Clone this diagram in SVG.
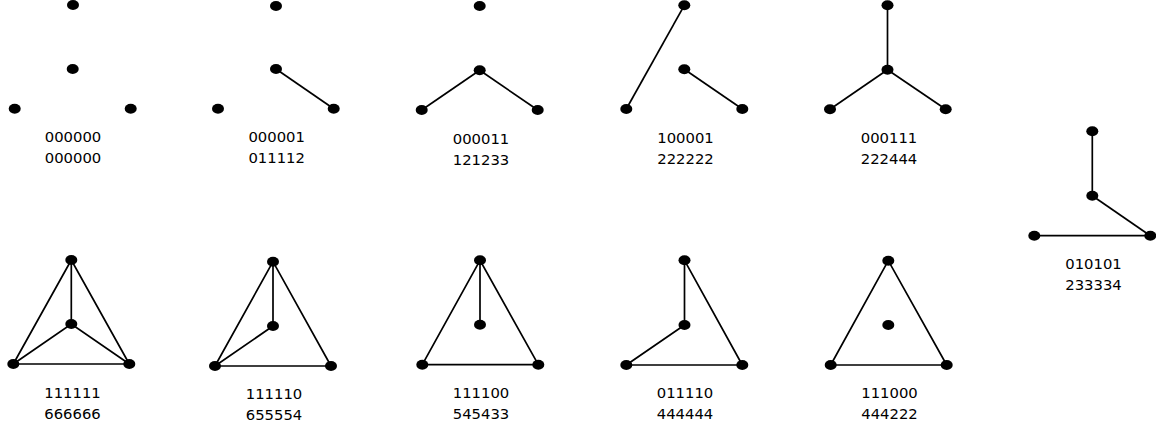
<svg xmlns="http://www.w3.org/2000/svg" width="1156" height="429" viewBox="0 0 1156 429">
<style>
.e{stroke:#000;stroke-width:1.7;fill:none}
.d{fill:#000}
.t{font-family:"DejaVu Sans",sans-serif;font-size:14.8px;fill:#000;text-anchor:middle}
</style>
<defs><ellipse id="dot" rx="6" ry="5" class="d"/></defs>
<rect width="1156" height="429" fill="#fff"/>
<g id="connectors">
<line class="e" x1="276" y1="69" x2="333.7" y2="108.7"/>
<line class="e" x1="479.7" y1="70.3" x2="421.7" y2="110"/>
<line class="e" x1="479.7" y1="70.3" x2="537.7" y2="110"/>
<line class="e" x1="684.3" y1="5.3" x2="626.3" y2="109"/>
<line class="e" x1="684.3" y1="69.3" x2="742.3" y2="109"/>
<line class="e" x1="887.5" y1="5.3" x2="887.5" y2="69.7"/>
<line class="e" x1="887.5" y1="69.7" x2="830" y2="109.3"/>
<line class="e" x1="887.5" y1="69.7" x2="945.7" y2="109.3"/>
<line class="e" x1="1092.3" y1="131.3" x2="1092.3" y2="195.7"/>
<line class="e" x1="1092.3" y1="195.7" x2="1150.3" y2="235.7"/>
<line class="e" x1="1034.3" y1="235.7" x2="1150.3" y2="235.7"/>
<path class="e" d="M71.3,260 L13.3,364 L129.3,364 Z M71.3,260 L71.3,324 M13.3,364 L71.3,324 L129.3,364"/>
<path class="e" d="M273,261.7 L215,366 L331,366 Z M273,261.7 L273,326 L215,366"/>
<path class="e" d="M480,260.3 L422.3,364.7 L538.3,364.7 Z M480,260.3 L480,324.7"/>
<path class="e" d="M684.5,260.3 L684.5,325 L626.3,365 L742.3,365 Z"/>
<path class="e" d="M888.3,260.7 L830.7,365 L946.7,365 Z"/>
</g>
<g id="g1">
<use href="#dot" x="73" y="5"/><use href="#dot" x="72.7" y="69"/><use href="#dot" x="14.7" y="108.7"/><use href="#dot" x="130.7" y="108.7"/>
<text class="t" x="73" y="142">000000</text><text class="t" x="73" y="163">000000</text>
</g>
<g id="g2">
<use href="#dot" x="276" y="6"/><use href="#dot" x="276" y="69"/><use href="#dot" x="218" y="108.7"/><use href="#dot" x="333.7" y="108.7"/>
<text class="t" x="276.7" y="142">000001</text><text class="t" x="276.7" y="163">011112</text>
</g>
<g id="g3">
<use href="#dot" x="479.7" y="6"/><use href="#dot" x="479.7" y="70.3"/><use href="#dot" x="421.7" y="110"/><use href="#dot" x="537.7" y="110"/>
<text class="t" x="481" y="143.5">000011</text><text class="t" x="481" y="164.5">121233</text>
</g>
<g id="g4">
<use href="#dot" x="684.3" y="5.3"/><use href="#dot" x="684.3" y="69.3"/><use href="#dot" x="626.3" y="109"/><use href="#dot" x="742.3" y="109"/>
<text class="t" x="685.5" y="142.5">100001</text><text class="t" x="685.5" y="163.5">222222</text>
</g>
<g id="g5">
<use href="#dot" x="887.5" y="5.3"/><use href="#dot" x="887.5" y="69.7"/><use href="#dot" x="830" y="109.3"/><use href="#dot" x="945.7" y="109.3"/>
<text class="t" x="889" y="142.5">000111</text><text class="t" x="889" y="163.5">222444</text>
</g>
<g id="g6">
<use href="#dot" x="1092.3" y="131.3"/><use href="#dot" x="1092.3" y="195.7"/><use href="#dot" x="1034.3" y="235.7"/><use href="#dot" x="1150.3" y="235.7"/>
<text class="t" x="1093.5" y="268.5">010101</text><text class="t" x="1093.5" y="289.5">233334</text>
</g>
<g id="g7">
<use href="#dot" x="71.3" y="260"/><use href="#dot" x="71.3" y="324"/><use href="#dot" x="13.3" y="364"/><use href="#dot" x="129.3" y="364"/>
<text class="t" x="72.5" y="397.5">111111</text><text class="t" x="72.5" y="418.5">666666</text>
</g>
<g id="g8">
<use href="#dot" x="273" y="261.7"/><use href="#dot" x="273" y="326"/><use href="#dot" x="215" y="366"/><use href="#dot" x="331" y="366"/>
<text class="t" x="274" y="399">111110</text><text class="t" x="274" y="420">655554</text>
</g>
<g id="g9">
<use href="#dot" x="480" y="260.3"/><use href="#dot" x="480" y="324.7"/><use href="#dot" x="422.3" y="364.7"/><use href="#dot" x="538.3" y="364.7"/>
<text class="t" x="481" y="397.5">111100</text><text class="t" x="481" y="418.5">545433</text>
</g>
<g id="g10">
<use href="#dot" x="684.5" y="260.3"/><use href="#dot" x="684.5" y="325"/><use href="#dot" x="626.3" y="365"/><use href="#dot" x="742.3" y="365"/>
<text class="t" x="685" y="397.5">011110</text><text class="t" x="685" y="418.5">444444</text>
</g>
<g id="g11">
<use href="#dot" x="888.3" y="260.7"/><use href="#dot" x="888.3" y="325"/><use href="#dot" x="830.7" y="365"/><use href="#dot" x="946.7" y="365"/>
<text class="t" x="889.5" y="397.5">111000</text><text class="t" x="889.5" y="418.5">444222</text>
</g>
</svg>
